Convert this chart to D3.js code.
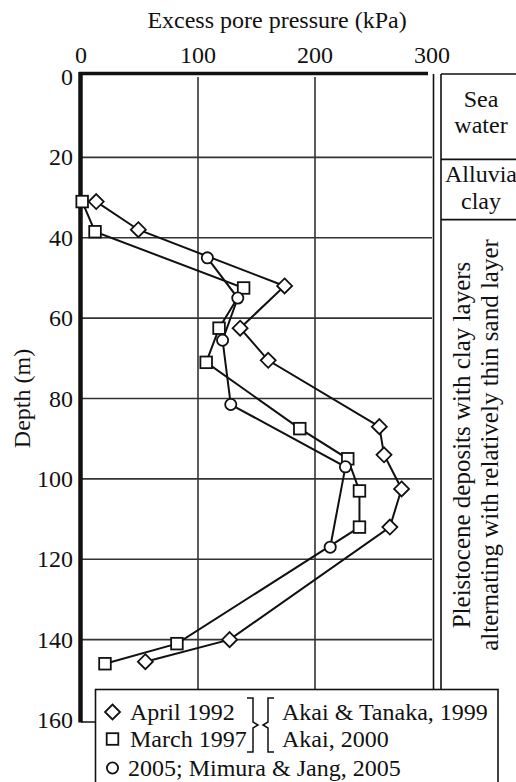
<!DOCTYPE html>
<html>
<head>
<meta charset="utf-8">
<script src="https://cdn.jsdelivr.net/npm/d3@7"></script>
<style>
  html, body { margin: 0; padding: 0; background: #fff; overflow: hidden; }
  text { font-family: "Liberation Serif", "Times New Roman", serif; fill: #111; }
</style>
</head>
<body>
<svg id="chart" width="516" height="782"></svg>
<script>
// Axis ticks
const pressureTicks = [0, 100, 200, 300];
const depthTicks = [0, 20, 40, 60, 80, 100, 120, 140, 160];

// April 1992 (Akai & Tanaka, 1999)
const april1992Pressure = [13, 49, 174, 136, 160, 255, 259, 274, 264, 127, 55];
const april1992Depth    = [31, 38, 52, 62.5, 70.5, 87, 94, 102.5, 112, 140, 145.5];

// March 1997 (Akai, 2000)
const march1997Pressure = [1, 12, 139, 118, 107, 187, 228, 238, 238, 82, 20.5];
const march1997Depth    = [31, 38.5, 52.5, 62.5, 71, 87.5, 95, 103, 112, 141, 146];

// 2005 (Mimura & Jang, 2005)
const y2005Pressure = [108, 134, 121, 128, 226, 213];
const y2005Depth    = [45, 55, 65.5, 81.5, 97, 117];

// Soil column
const layerTops   = [0, 20.5, 35.5];
const layerLabels = [["Sea", "water"], ["Alluvia", "clay"],
  ["Pleistocene deposits with clay layers", "alternating with relatively thin sand layer"]];

// Legend
const legendRows = ["April 1992", "March 1997", "2005; Mimura & Jang, 2005"];
const legendRefs = ["Akai & Tanaka, 1999", "Akai, 2000"];

const svg = d3.select("#chart");
const x = d3.scaleLinear().domain([0, 300]).range([81, 432]);
const y = d3.scaleLinear().domain([0, 160]).range([77, 720]);

const FS = 24;

// Grid
const grid = svg.append("g").attr("stroke", "#333").attr("stroke-width", 1.6);
grid.selectAll("line.v").data(pressureTicks.filter(t => t > 0 && t < 300)).join("line")
  .attr("x1", d => x(d)).attr("x2", d => x(d)).attr("y1", y(0)).attr("y2", y(160));
grid.selectAll("line.h").data(depthTicks.filter(t => t > 0 && t < 160)).join("line")
  .attr("x1", x(0)).attr("x2", x(300)).attr("y1", d => y(d)).attr("y2", d => y(d));

// Frame
const frame = svg.append("g").attr("stroke", "#111");
frame.append("line").attr("x1", x(0) - 2).attr("x2", x(300) - 4)
  .attr("y1", y(0) - 3.5).attr("y2", y(0) - 3.5).attr("stroke-width", 3.5);
frame.append("line").attr("x1", x(300) + 1.5).attr("x2", x(300) + 1.5)
  .attr("y1", y(0) - 3).attr("y2", y(160)).attr("stroke-width", 1.6);
frame.append("line").attr("x1", x(0)).attr("x2", x(300))
  .attr("y1", y(160) + 2).attr("y2", y(160) + 2).attr("stroke-width", 1.6);
frame.append("line").attr("x1", x(0) - 0.5).attr("x2", x(0) - 0.5)
  .attr("y1", y(0) - 5).attr("y2", y(160) + 2.5).attr("stroke-width", 4.5);

// Tick labels
svg.append("g").selectAll("text").data(pressureTicks).join("text")
  .attr("x", d => x(d)).attr("y", 63).attr("text-anchor", "middle")
  .attr("font-size", FS).text(d => d);
svg.append("g").selectAll("text").data(depthTicks).join("text")
  .attr("x", 73).attr("y", d => y(d) + 8).attr("text-anchor", "end")
  .attr("font-size", FS).text(d => d);

// Axis titles
svg.append("text").attr("x", 277).attr("y", 28).attr("text-anchor", "middle")
  .attr("font-size", FS).text("Excess pore pressure (kPa)");
svg.append("text").attr("transform", `translate(30,${y(80)}) rotate(-90)`)
  .attr("text-anchor", "middle").attr("font-size", FS).text("Depth (m)");

// Soil column
const colLeft = x(300) + 9, colRight = 530, colMid = 481;
const col = svg.append("g").attr("stroke", "#111").attr("stroke-width", 1.6);
col.append("line").attr("x1", colLeft).attr("x2", colLeft).attr("y1", y(0) - 3).attr("y2", 700);
col.append("line").attr("x1", colLeft).attr("x2", colRight).attr("y1", y(0) - 3).attr("y2", y(0) - 3);
col.selectAll("line.b").data(layerTops.slice(1)).join("line")
  .attr("x1", colLeft).attr("x2", colRight).attr("y1", d => y(d)).attr("y2", d => y(d));

const colText = svg.append("g").attr("font-size", FS).attr("text-anchor", "middle");
colText.append("text").attr("x", colMid).attr("y", 107).text(layerLabels[0][0]);
colText.append("text").attr("x", colMid).attr("y", 133).text(layerLabels[0][1]);
colText.append("text").attr("x", colMid).attr("y", 182).text(layerLabels[1][0]);
colText.append("text").attr("x", colMid).attr("y", 209).text(layerLabels[1][1]);
const midDeep = 445;
colText.append("text").attr("font-size", 25)
  .attr("transform", `translate(470,${midDeep}) rotate(-90)`).text(layerLabels[2][0]);
colText.append("text").attr("font-size", 25)
  .attr("transform", `translate(498,${midDeep}) rotate(-90)`).text(layerLabels[2][1]);

// Series
const series = [
  { name: "april", p: april1992Pressure, d: april1992Depth, shape: "diamond" },
  { name: "march", p: march1997Pressure, d: march1997Depth, shape: "square" },
  { name: "y2005", p: y2005Pressure, d: y2005Depth, shape: "circle" }
];

const line = d3.line().x(v => x(v[0])).y(v => y(v[1]));
function marker(g, shape) {
  if (shape === "diamond") {
    g.append("path").attr("d", "M0,-7.5L7.5,0L0,7.5L-7.5,0Z");
  } else if (shape === "square") {
    g.append("rect").attr("x", -5.8).attr("y", -5.8).attr("width", 11.6).attr("height", 11.6);
  } else {
    g.append("circle").attr("r", 5.6);
  }
}

series.forEach(s => {
  const pts = s.p.map((v, i) => [v, s.d[i]]);
  svg.append("path").datum(pts).attr("d", line)
    .attr("fill", "none").attr("stroke", "#111").attr("stroke-width", 2);
});
series.forEach(s => {
  const pts = s.p.map((v, i) => [v, s.d[i]]);
  const g = svg.append("g").attr("fill", "#fff").attr("stroke", "#111").attr("stroke-width", 1.8);
  pts.forEach(pt => {
    const m = g.append("g").attr("transform", `translate(${x(pt[0])},${y(pt[1])})`);
    marker(m, s.shape);
  });
});

// Legend
const lg = svg.append("g");
lg.append("rect").attr("x", 95.5).attr("y", 689.5).attr("width", 402.5).attr("height", 130)
  .attr("fill", "#fff").attr("stroke", "#111").attr("stroke-width", 1.6);
const rowY = [720, 747, 776];
const shapes = ["diamond", "square", "circle"];
shapes.forEach((sh, i) => {
  const m = lg.append("g").attr("fill", "#fff").attr("stroke", "#111").attr("stroke-width", 1.8)
    .attr("transform", `translate(112.5,${rowY[i] - 8})`);
  marker(m, sh);
  lg.append("text").attr("x", i === 2 ? 128 : 130).attr("y", rowY[i]).attr("font-size", FS).text(legendRows[i]);
});
legendRefs.forEach((t, i) => {
  lg.append("text").attr("x", 282).attr("y", rowY[i]).attr("font-size", FS).text(t);
});
// Braces grouping the first two rows
const bTop = 698, bBot = 752, bMid = 725;
lg.append("path")
  .attr("d", `M247,${bTop}L253,${bTop}L253,${bMid - 3}L258,${bMid}L253,${bMid + 3}L253,${bBot}L247,${bBot}`)
  .attr("fill", "none").attr("stroke", "#111").attr("stroke-width", 1.5);
lg.append("path")
  .attr("d", `M274,${bTop}L268,${bTop}L268,${bMid - 3}L263,${bMid}L268,${bMid + 3}L268,${bBot}L274,${bBot}`)
  .attr("fill", "none").attr("stroke", "#111").attr("stroke-width", 1.5);
</script>
</body>
</html>
